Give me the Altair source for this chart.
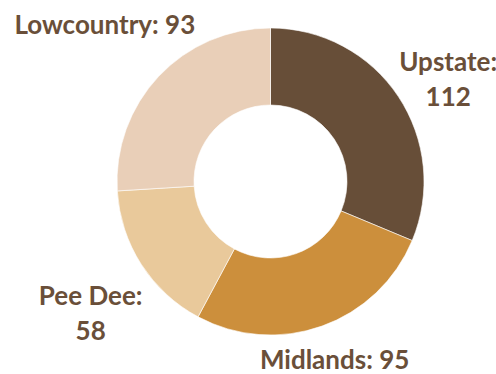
import altair as alt
import pandas as pd

regions = ["Upstate", "Midlands", "Pee Dee", "Lowcountry"]
counts = [112, 95, 58, 93]
colors = ["#674e38", "#cc8f3c", "#e9c99b", "#e9cfb8"]

df = pd.DataFrame({"region": regions, "count": counts, "order": list(range(len(regions)))})

OUTER = 153.5
INNER = 76.5
FONT = 26
LINE = 35
CHAR_W = 12.6
GAP = 3
TEXT_COLOR = "#6a4f39"

base = alt.Chart(df)

arcs = base.mark_arc(outerRadius=OUTER, innerRadius=INNER, stroke="white", strokeWidth=0.6).encode(
    theta=alt.Theta("count:Q", stack=True),
    color=alt.Color("region:N", scale=alt.Scale(domain=regions, range=colors), legend=None),
    order=alt.Order("order:Q"),
)

labels = (
    base.transform_window(cum="sum(count)", sort=[alt.SortField("order")], frame=[None, 0])
    .transform_joinaggregate(total="sum(count)")
    .transform_calculate(mid="(datum.cum - datum.count / 2) / datum.total * 2 * PI")
    .transform_calculate(wrap="abs(sin(datum.mid)) > 0.8")
    .transform_calculate(
        label="datum.wrap ? datum.region + ':\\n' + datum.count : datum.region + ': ' + datum.count",
        w=f"(datum.wrap ? max(length(datum.region) + 1, length('' + datum.count)) : length(datum.region) + 2 + length('' + datum.count)) * {CHAR_W}",
        h=f"datum.wrap ? {LINE + FONT * 0.75} : {FONT * 0.75}",
    )
    .transform_calculate(
        lr=f"{OUTER + GAP} + abs(sin(datum.mid)) * datum.w / 2 + abs(cos(datum.mid)) * datum.h / 2"
    )
    .mark_text(
        font="Lato",
        fontWeight="bold",
        fontSize=FONT,
        lineHeight=LINE,
        lineBreak="\n",
        color=TEXT_COLOR,
        align="center",
        baseline="middle",
    )
    .encode(
        theta=alt.Theta("mid:Q", scale=None),
        radius=alt.Radius("lr:Q", scale=None),
        text="label:N",
    )
)

chart = (
    alt.layer(arcs, labels)
    .properties(
        width=451,
        height=363,
        padding={"left": 45, "top": 0, "right": 0, "bottom": 11},
        autosize="none",
        background="white",
    )
    .configure_view(stroke=None)
)

chart.save("out.html", embed_options={"renderer": "svg", "actions": False})
